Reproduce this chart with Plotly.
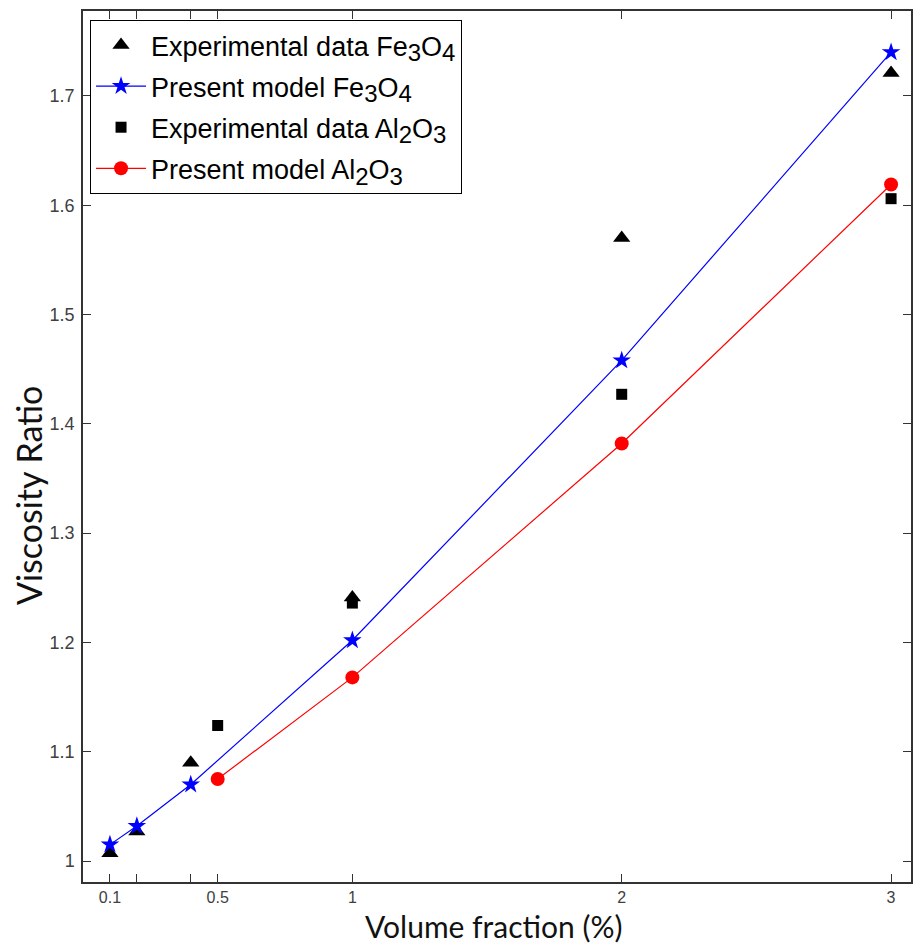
import plotly.graph_objects as go

# Volume fraction (%) and measured / modelled viscosity ratios
phi_fe = [0.1, 0.2, 0.4, 1.0, 2.0, 3.0]
exp_fe = [1.007, 1.027, 1.090, 1.241, 1.570, 1.721]
model_fe = [1.015, 1.032, 1.070, 1.202, 1.458, 1.740]

phi_al = [0.5, 1.0, 2.0, 3.0]
exp_al = [1.124, 1.236, 1.427, 1.606]
model_al = [1.075, 1.168, 1.382, 1.619]

x_tickvals = [0.1, 0.2, 0.4, 0.5, 1, 2, 3]
x_ticktext = ["0.1", "", "", "0.5", "1", "2", "3"]
y_tickvals = [1.0, 1.1, 1.2, 1.3, 1.4, 1.5, 1.6, 1.7]
y_ticktext = ["1", "1.1", "1.2", "1.3", "1.4", "1.5", "1.6", "1.7"]


def sub(s):
    return '<sub><span style="font-size:24px">' + s + '</span></sub>'


FE = "Fe" + sub("3") + "O" + sub("4")
AL = "Al" + sub("2") + "O" + sub("3")

fig = go.Figure()

fig.add_trace(go.Scatter(
    x=phi_fe, y=exp_fe, mode="markers", legendgroup="a",
    name="Experimental data " + FE,
    marker=dict(symbol="triangle-up", size=15, color="black"),
))
fig.add_trace(go.Scatter(
    x=phi_fe, y=model_fe, mode="lines+markers", legendgroup="b",
    name="Present model " + FE,
    line=dict(color="#0000FF", width=1.2),
    marker=dict(symbol="star", size=14, color="#0000FF"),
))
fig.add_trace(go.Scatter(
    x=phi_al, y=exp_al, mode="markers", legendgroup="c",
    name="Experimental data " + AL,
    marker=dict(symbol="square", size=11, color="black"),
))
fig.add_trace(go.Scatter(
    x=phi_al, y=model_al, mode="lines+markers", legendgroup="d",
    name="Present model " + AL,
    line=dict(color="#FF0000", width=1.2),
    marker=dict(symbol="circle", size=14, color="#FF0000"),
))

axis_common = dict(
    showline=True, linecolor="#333333", linewidth=1.5, mirror="ticks",
    ticks="inside", ticklen=8, tickcolor="#333333", tickwidth=1,
    showgrid=False, zeroline=False,
)

fig.update_xaxes(
    range=[0, 3.074], tickmode="array", tickvals=x_tickvals, ticktext=x_ticktext,
    ticklabelstandoff=0,
    tickfont=dict(family="Liberation Sans, Arial, sans-serif", size=16, color="#404040"),
    **axis_common,
)
fig.update_yaxes(
    range=[0.9808, 1.7777], tickmode="array", tickvals=y_tickvals, ticktext=y_ticktext,
    ticklabelstandoff=3,
    tickfont=dict(family="Liberation Sans, Arial, sans-serif", size=18, color="#404040"),
    **axis_common,
)

fig.add_annotation(
    text="Volume fraction (%)", xref="paper", yref="paper",
    x=0.4952, y=-0.0735, xanchor="center", yanchor="bottom",
    showarrow=False, font=dict(family="Lato, sans-serif", size=30, color="#111111"),
)
fig.add_annotation(
    text="Viscosity Ratio", xref="paper", yref="paper",
    x=-0.0663, y=0.4443, xanchor="center", yanchor="middle",
    textangle=-90, showarrow=False,
    font=dict(family="Lato, sans-serif", size=34, color="#111111"),
)

fig.update_layout(
    width=913, height=946,
    margin=dict(l=83, r=0, t=11, b=64),
    paper_bgcolor="white", plot_bgcolor="white",
    showlegend=True,
    legend=dict(
        x=0.0085, y=0.9897, xanchor="left", yanchor="top",
        bgcolor="white", bordercolor="black", borderwidth=1,
        font=dict(family="Liberation Sans, Arial, sans-serif", size=27, color="black"),
        itemwidth=50, tracegroupgap=3,
    ),
)

fig.write_html("out.html")
